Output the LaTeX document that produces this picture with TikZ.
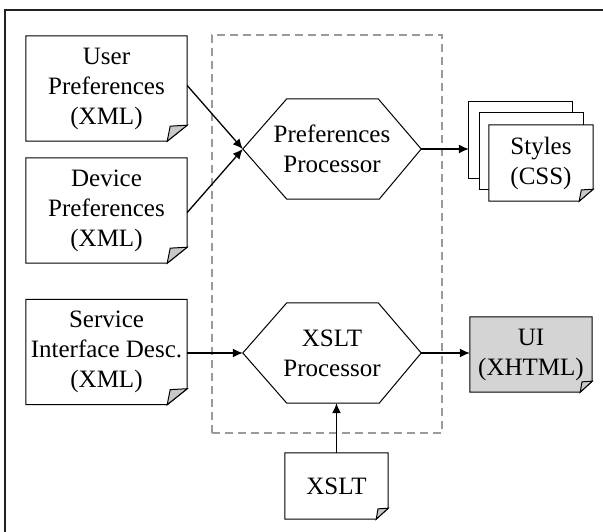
\documentclass[tikz,border=0pt]{standalone}
\usepackage{fontspec}
\setmainfont{Liberation Serif}
\usetikzlibrary{arrows.meta,calc,backgrounds}

\definecolor{foldgray}{HTML}{C8C8C8}
\definecolor{uigray}{HTML}{D4D4D4}
\definecolor{groupgray}{HTML}{9A9A9A}
\definecolor{framegray}{HTML}{222222}

% document page with a folded bottom-right corner: name, fill, fold width, fold height
\newcommand\docoutline[4]{%
  \filldraw[shapeline, fill=#2] (#1.north west) -- (#1.north east)
    -- ($(#1.south east)+(0,-#4)$) -- ($(#1.south east)+(-#3,0)$)
    -- (#1.south west) -- cycle;
  \filldraw[shapeline, fill=foldgray] ($(#1.south east)+(0,-#4)$)
    -- ($(#1.south east)+(-0.85*#3,-0.94*#4)$) -- ($(#1.south east)+(-#3,0)$) -- cycle;}

% elongated hexagon round a processor node
\newcommand\hexoutline[1]{%
  \filldraw[shapeline, fill=white] (#1.west) -- ($(#1.north west)+(44,0)$)
    -- ($(#1.north east)+(-43,0)$) -- (#1.east) -- ($(#1.south east)+(-42,0)$)
    -- ($(#1.south west)+(44,0)$) -- cycle;}

\begin{document}
\begin{tikzpicture}[x=1pt,y=-1pt,
  shapeline/.style={line width=1pt, draw=black},
  txt/.style={align=center, font=\fontsize{25}{30}\selectfont, inner sep=0pt},
  docnode/.style={txt, minimum width=161pt, minimum height=105pt},
  procnode/.style={txt, minimum width=178pt, minimum height=100pt},
  flow/.style={line width=1.3pt, -{Latex[length=10pt,width=9pt]}},
]
\useasboundingbox (0,0) rectangle (603,532);

% outer frame, open towards the right and bottom edges
\draw[line width=1.8pt, framegray] (5,540) -- (5,10) -- (610,10);

% processing group
\node[draw=groupgray, line width=1.5pt, dash pattern=on 8pt off 5pt,
      minimum width=230pt, minimum height=398pt, inner sep=0pt] (group) at (327,234) {};

% input documents
\node[docnode] (user)    at (106.5,88.5)  {User\\Preferences\\(XML)};
\node[docnode] (device)  at (106.5,210.5) {Device\\Preferences\\(XML)};
\node[docnode] (service) at (106.5,352)   {Service\\Interface Desc.\\(XML)};

% processors
\node[procnode] (pp) at (332,149) {Preferences\\Processor};
\node[procnode] (xp) at (332,353) {XSLT\\Processor};

% outputs
\node[txt, minimum width=103pt, minimum height=76pt] (css3) at (520.5,140) {};
\node[txt, minimum width=103pt, minimum height=76pt] (css2) at (531.5,151) {};
\node[txt, minimum width=104pt, minimum height=76pt] (css1) at (541,163) {Styles\\(CSS)};
\node[txt, minimum width=122pt, minimum height=75pt] (ui) at (531,354.5) {UI\\(XHTML)};

% stylesheet
\node[txt, minimum width=103pt, minimum height=66pt] (xslt) at (336.5,486) {XSLT};

\begin{scope}[on background layer]
  \docoutline{user}{white}{20}{16}
  \docoutline{device}{white}{20}{16}
  \docoutline{service}{white}{20}{16}
  \hexoutline{pp}
  \hexoutline{xp}
  \filldraw[shapeline, fill=white] (css3.north west) rectangle (css3.south east);
  \filldraw[shapeline, fill=white] (css2.north west) rectangle (css2.south east);
  \docoutline{css1}{white}{14}{12}
  \docoutline{ui}{uigray}{12}{11}
  \docoutline{xslt}{white}{12}{11}
\end{scope}

% data flow
\draw[flow] ($(user.east)+(0,-3)$) -- (pp.west);
\draw[flow] ($(device.east)+(0,2)$) -- (pp.west);
\draw[flow] (pp.east) -- (pp.east -| css3.west);
\draw[flow] (service.east |- xp.west) -- (xp.west);
\draw[flow] (xp.east) -- (xp.east -| ui.west);
\draw[flow] (xslt.north) -- (xslt.north |- xp.south);
\end{tikzpicture}
\end{document}
